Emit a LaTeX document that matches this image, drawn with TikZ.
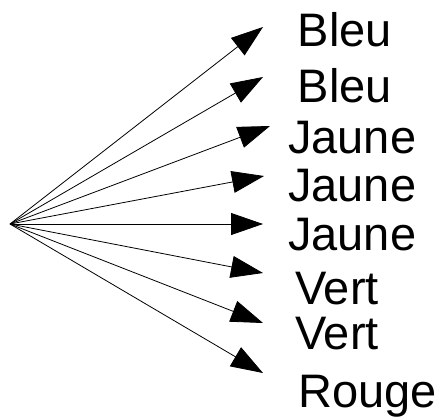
\documentclass[tikz,border=0pt]{standalone}
\usepackage{fontspec}
\setmainfont{Liberation Sans}
\usetikzlibrary{arrows.meta}
\begin{document}
\begin{tikzpicture}[x=1pt,y=-1pt,
  lbl/.style={anchor=base west,inner sep=0pt,font=\fontsize{47}{54}\selectfont},
  arr/.style={draw=black,line width=0.8pt,-{Triangle[length=32pt,width=22pt]}}]
\useasboundingbox (0,0) rectangle (439,416);
\coordinate (o) at (10,224);
\coordinate (t1) at (263,27);
\coordinate (t2) at (263,77);
\coordinate (t3) at (270,126);
\coordinate (t4) at (264,176);
\coordinate (t5) at (263,224);
\coordinate (t6) at (263,273);
\coordinate (t7) at (263,323);
\coordinate (t8) at (263,373);
\foreach \i in {1,...,8} {\draw[arr] (o) -- (t\i);}
\node[lbl] (l1) at (297.5,46) {Bleu};
\node[lbl] (l2) at (297.5,102) {Bleu};
\node[lbl] (l3) at (288,153) {Jaune};
\node[lbl] (l4) at (288,201) {Jaune};
\node[lbl] (l5) at (288,250) {Jaune};
\node[lbl] (l6) at (295,304) {Vert};
\node[lbl] (l7) at (295,349) {Vert};
\node[lbl] (l8) at (298,407) {Rouge};
\end{tikzpicture}
\end{document}
